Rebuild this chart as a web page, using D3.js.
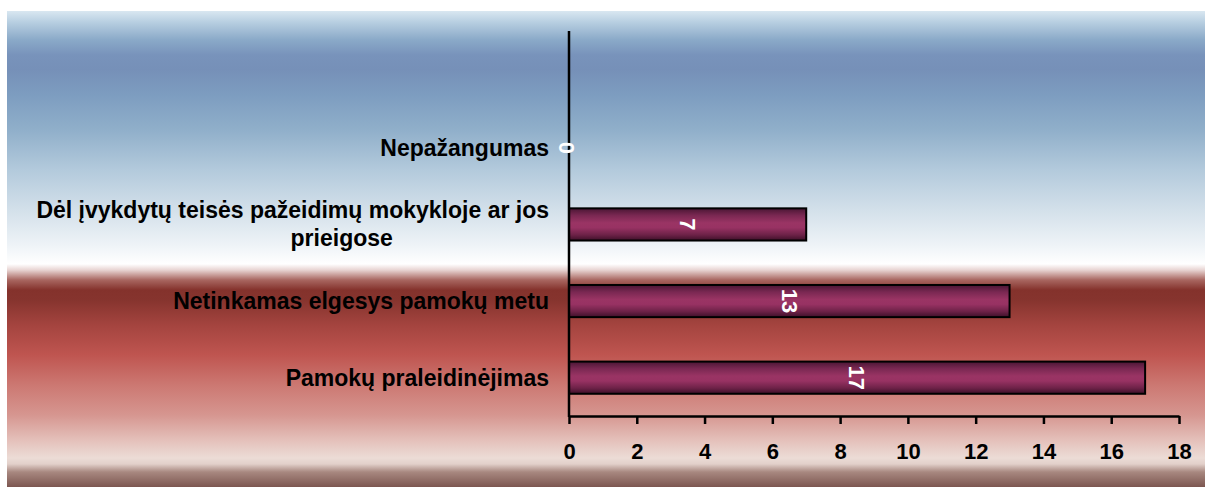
<!DOCTYPE html>
<html>
<head>
<meta charset="utf-8">
<script src="https://cdn.jsdelivr.net/npm/d3@7"></script>
<style>
  html, body { margin: 0; padding: 0; background: #ffffff; }
  svg { display: block; font-family: "Liberation Sans", Arial, sans-serif; }
</style>
</head>
<body>
<svg id="chart" width="1205" height="487"></svg>
<script>
// Categories, top to bottom
const categories = [
  "Nepažangumas",
  "Dėl įvykdytų teisės pažeidimų mokykloje ar jos prieigose",
  "Netinkamas elgesys pamokų metu",
  "Pamokų praleidinėjimas"
];
// Wrapped label lines for each category
const labelLines = [
  ["Nepažangumas"],
  ["Dėl įvykdytų teisės pažeidimų mokykloje ar jos", "prieigose"],
  ["Netinkamas elgesys pamokų metu"],
  ["Pamokų praleidinėjimas"]
];
const values = [0, 7, 13, 17];
const tickValues = [0, 2, 4, 6, 8, 10, 12, 14, 16, 18];

const W = 1205, H = 487;
const svg = d3.select("#chart");
const defs = svg.append("defs");

// Panel background: blue sky fading to white, then deep red fading to pale pink
const bg = defs.append("linearGradient")
  .attr("id", "bgGrad").attr("gradientUnits", "userSpaceOnUse")
  .attr("x1", 0).attr("y1", 11).attr("x2", 0).attr("y2", H);
[
  [11, "#d9e7f1"], [22, "#b8cfe1"], [40, "#8aa9c8"], [55, "#7893bb"],
  [70, "#7690b8"], [95, "#7d9dc0"], [130, "#90afca"], [170, "#b3cadc"],
  [210, "#d3e0ea"], [245, "#eef3f7"], [264, "#ffffff"], [270, "#e8d4d2"],
  [280, "#a86660"], [290, "#84322c"], [300, "#86342e"], [325, "#a4443f"],
  [355, "#bf5550"], [385, "#cc7872"], [415, "#d69690"], [440, "#e4c0ba"],
  [458, "#ecdcd6"], [464, "#e2d0ca"], [472, "#a88880"], [487, "#7c5650"]
].forEach(([y, c]) => {
  bg.append("stop").attr("offset", (y - 11) / (H - 11)).attr("stop-color", c);
});

// Bar fill: plum with darker top and bottom edges
const barGrad = defs.append("linearGradient")
  .attr("id", "barGrad").attr("x1", 0).attr("y1", 0).attr("x2", 0).attr("y2", 1);
[[0, "#4a1634"], [0.22, "#7a2852"], [0.45, "#9a3464"], [0.6, "#983263"],
 [0.82, "#6e2248"], [1, "#3e1029"]].forEach(([o, c]) => {
  barGrad.append("stop").attr("offset", o).attr("stop-color", c);
});

svg.append("rect")
  .attr("x", 7).attr("y", 11).attr("width", W - 7).attr("height", H - 11)
  .attr("fill", "url(#bgGrad)");

// Scales
const x = d3.scaleLinear().domain([0, 18]).range([569, 1179]);
const y = d3.scaleBand().domain(categories)
  .range([109.5, 416]).paddingInner(0.58).paddingOuter(0.29);
const axisTop = 31;

// Bars
svg.append("g").selectAll("rect")
  .data(categories.map((c, i) => ({ c, v: values[i] })).filter(d => d.v > 0))
  .join("rect")
  .attr("x", x(0))
  .attr("y", d => y(d.c))
  .attr("width", d => x(d.v) - x(0))
  .attr("height", y.bandwidth())
  .attr("fill", "url(#barGrad)")
  .attr("stroke", "#000")
  .attr("stroke-width", 2);

// X axis
const xAxis = svg.append("g")
  .attr("transform", `translate(0,${416})`)
  .call(d3.axisBottom(x).tickValues(tickValues).tickSize(8).tickSizeOuter(0).tickPadding(19));
xAxis.select(".domain").attr("stroke", "#000").attr("stroke-width", 2.5);
xAxis.selectAll(".tick line").attr("stroke", "#000").attr("stroke-width", 2.5);
xAxis.selectAll(".tick text")
  .attr("fill", "#000").attr("font-size", 22).attr("font-weight", "bold")
  .attr("font-family", "'Liberation Sans', Arial, sans-serif");

// Y axis line
svg.append("line")
  .attr("x1", x(0)).attr("x2", x(0))
  .attr("y1", axisTop).attr("y2", 417)
  .attr("stroke", "#000").attr("stroke-width", 2.5);

// Category labels
const labelG = svg.append("g")
  .attr("font-size", 23).attr("font-weight", "bold").attr("fill", "#000");
categories.forEach((c, i) => {
  const cy = y(c) + y.bandwidth() / 2;
  const lines = labelLines[i];
  if (lines.length === 1) {
    labelG.append("text")
      .attr("x", 549).attr("y", cy).attr("dy", "0.35em")
      .attr("text-anchor", "end").text(lines[0]);
  } else {
    const first = labelG.append("text")
      .attr("x", 549).attr("y", cy - 14).attr("dy", "0.35em")
      .attr("text-anchor", "end").text(lines[0]);
    const w = first.node().getComputedTextLength();
    const mid = 549 - w / 2 + 49;
    labelG.append("text")
      .attr("x", mid).attr("y", cy + 14).attr("dy", "0.35em")
      .attr("text-anchor", "middle").text(lines[1]);
  }
});

// Value labels, rotated, centred in each bar
svg.append("g").selectAll("text")
  .data(categories.map((c, i) => ({ c, v: values[i] })))
  .join("text")
  .attr("transform", d => {
    const cx = d.v > 0 ? (x(0) + x(d.v)) / 2 : x(0) - 2;
    const cy = y(d.c) + y.bandwidth() / 2;
    return `translate(${cx},${cy}) rotate(90)`;
  })
  .attr("text-anchor", "middle").attr("dy", "0.35em")
  .attr("font-size", 22).attr("font-weight", "bold").attr("fill", "#ffffff")
  .text(d => d.v);
</script>
</body>
</html>
